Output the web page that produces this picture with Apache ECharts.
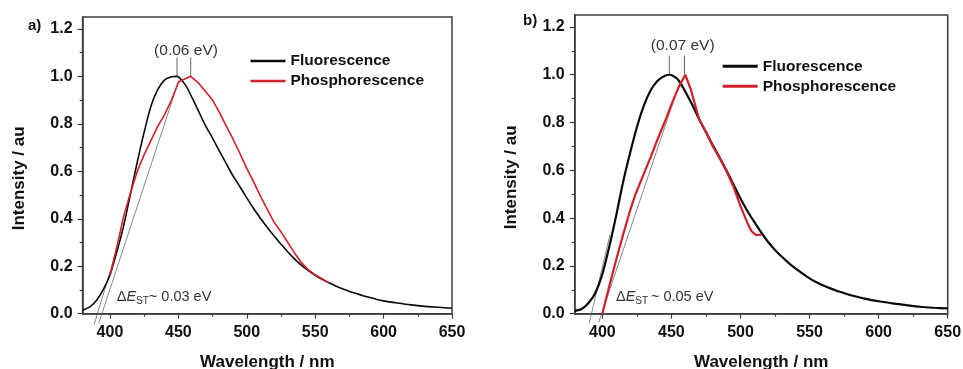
<!DOCTYPE html>
<html>
<head>
<meta charset="utf-8">
<script src="https://cdn.jsdelivr.net/npm/echarts@6/dist/echarts.min.js"></script>
<style>
  html, body { margin: 0; padding: 0; background: #fff; }
  #chart { width: 963px; height: 369px; }
</style>
</head>
<body>
<div id="chart"></div>
<script>
// ---- Emission spectra (wavelength in nm, normalised intensity) ----
const wavelengths = [380,385,390,395,400,405,410,415,420,425,430,435,440,445,449,455,460,465,470,475,480,485,490,495,500,505,510,515,520,525,530,535,540,545,550,555,560,565,570,575,580,585,590,595,600,610,620,630,640,650];

// (a) fluorescence and phosphorescence
const fluorA = [0.015,0.028,0.055,0.100,0.163,0.260,0.370,0.505,0.640,0.765,0.875,0.945,0.985,0.998,1.000,0.965,0.910,0.850,0.790,0.740,0.685,0.632,0.580,0.535,0.488,0.443,0.402,0.363,0.327,0.293,0.260,0.230,0.204,0.182,0.162,0.145,0.130,0.117,0.105,0.094,0.085,0.076,0.068,0.060,0.054,0.045,0.037,0.031,0.027,0.023];
const phosWlA = [400,405,410,415,420,425,430,435,440,445,450,453,459,465,470,475,480,485,490,495,500,505,510,515,520,525,530,535,540,545,550,555,560];
const phosA = [0.160,0.280,0.410,0.510,0.600,0.670,0.730,0.790,0.840,0.900,0.975,0.985,1.000,0.970,0.935,0.900,0.848,0.790,0.735,0.675,0.612,0.555,0.495,0.440,0.385,0.345,0.300,0.255,0.215,0.185,0.163,0.147,0.130];

// (b) fluorescence and phosphorescence
const fluorB = [0.012,0.020,0.045,0.088,0.165,0.280,0.410,0.550,0.670,0.780,0.870,0.935,0.975,0.995,1.000,0.978,0.930,0.875,0.815,0.760,0.705,0.652,0.598,0.540,0.482,0.430,0.384,0.340,0.300,0.267,0.238,0.212,0.189,0.168,0.148,0.132,0.118,0.106,0.095,0.086,0.077,0.070,0.063,0.057,0.052,0.043,0.036,0.029,0.025,0.022];
const phosWlB = [400,405,410,415,420,424,430,435,440,445,450,455,460,464,470,475,480,485,490,495,500,505,508,511,515];
const phosB = [0.000,0.115,0.225,0.330,0.430,0.500,0.585,0.655,0.730,0.800,0.875,0.945,1.000,0.940,0.815,0.760,0.700,0.650,0.595,0.530,0.450,0.380,0.345,0.330,0.330];

// Onset tangents [wavelength, intensity] end points
const tangentFluorA = [[388.5,-0.045],[406,0.29]];
const tangentPhosA  = [[391.8,-0.040],[450.5,0.985]];
const tangentFluorB = [[390.5,-0.040],[405.5,0.330]];
const tangentPhosB  = [[397.4,-0.035],[456,0.965]];

// Emission maxima markers
const peaksA = [449, 459];
const peaksB = [448.5, 459.5];
const peakMarkTop = 1.08;

// Axis ticks
const xMajorTicks = [400,450,500,550,600,650];
const xMinorTicks = [425,475,525,575,625];
const yMajorTicks = [0,0.2,0.4,0.6,0.8,1.0,1.2];
const yMinorTicks = [0.1,0.3,0.5,0.7,0.9,1.1];

const seriesNames = ['Fluorescence', 'Phosphorescence'];
const annotations = {
  a: { label: 'a)', shift: '(0.06 eV)', gap: '~ 0.03 eV', subSpace: '' },
  b: { label: 'b)', shift: '(0.07 eV)', gap: '~ 0.05 eV', subSpace: ' ' }
};

const FONT = '"Liberation Sans", Arial, Helvetica, sans-serif';
const BLACK = '#0a0a0a';
const RED = '#d0202a';
const FRAME = '#3c3c3c';
const THIN = '#555555';

const zip = (xs, ys) => xs.map((x, i) => [x, ys[i]]);

const grids = [
  { left: 82.6, top: 17, width: 369.4, height: 296.7 },
  { left: 574.7, top: 15, width: 373, height: 298.7 }
];

function xAxes(gridIndex) {
  return [
    {
      type: 'value', gridIndex, min: 380, max: 650, position: 'bottom',
      axisLine: { show: true, onZero: false, lineStyle: { color: FRAME, width: 1.5 } },
      axisTick: { show: true, inside: false, length: 5, customValues: xMajorTicks, lineStyle: { color: FRAME, width: 1.2 } },
      axisLabel: { customValues: xMajorTicks, margin: 11, fontSize: 16, fontWeight: 'bold', color: '#111', fontFamily: FONT },
      splitLine: { show: false },
      name: 'Wavelength / nm', nameLocation: 'middle', nameGap: 40,
      nameTextStyle: { fontSize: 17, fontWeight: 'bold', color: '#111', fontFamily: FONT }
    },
    {
      type: 'value', gridIndex, min: 380, max: 650, position: 'bottom',
      axisLine: { show: false, onZero: false },
      axisTick: { show: true, inside: false, length: 3, customValues: xMinorTicks, lineStyle: { color: FRAME, width: 1.2 } },
      axisLabel: { show: false },
      splitLine: { show: false }
    }
  ];
}

function yAxes(gridIndex) {
  return [
    {
      type: 'value', gridIndex, min: 0, max: 1.25, position: 'left',
      axisLine: { show: true, onZero: false, lineStyle: { color: FRAME, width: 1.5 } },
      axisTick: { show: true, inside: false, length: 5, customValues: yMajorTicks, lineStyle: { color: FRAME, width: 1.2 } },
      axisLabel: { customValues: yMajorTicks, margin: 10, fontSize: 16, fontWeight: 'bold', color: '#111', fontFamily: FONT,
                   formatter: v => Number(v).toFixed(1) },
      splitLine: { show: false },
      name: 'Intensity / au', nameLocation: 'middle', nameGap: 55,
      nameTextStyle: { fontSize: 17, fontWeight: 'bold', color: '#111', fontFamily: FONT, padding: [0, 26, 0, 0] }
    },
    {
      type: 'value', gridIndex, min: 0, max: 1.25, position: 'left',
      axisLine: { show: false, onZero: false },
      axisTick: { show: true, inside: false, length: 3, customValues: yMinorTicks, lineStyle: { color: FRAME, width: 1.2 } },
      axisLabel: { show: false },
      splitLine: { show: false }
    }
  ];
}

function panelSeries(gridIndex, fluor, phosWl, phos, tanF, tanP, peaks, width) {
  const ax = { xAxisIndex: gridIndex * 2, yAxisIndex: gridIndex * 2 };
  const thin = (data, w) => Object.assign({
    type: 'line', data, symbol: 'none', clip: false, silent: true, z: 1,
    lineStyle: { color: THIN, width: w }, color: THIN
  }, ax);
  return [
    thin(tanF, 0.7),
    thin(tanP, 0.7),
    thin([[peaks[0], 1.0], [peaks[0], peakMarkTop]], 0.9),
    thin([[peaks[1], 1.0], [peaks[1], peakMarkTop]], 0.9),
    Object.assign({
      type: 'line', name: seriesNames[0], data: zip(wavelengths, fluor), symbol: 'none', smooth: 0.25, z: 3,
      color: BLACK, lineStyle: { color: BLACK, width: width }
    }, ax),
    Object.assign({
      type: 'line', name: seriesNames[1], data: zip(phosWl, phos), symbol: 'none', z: 4,
      color: RED, lineStyle: { color: RED, width: width }
    }, ax)
  ];
}

function legend(left, top, iconH) {
  return {
    data: seriesNames, orient: 'vertical', left, top, padding: 0,
    icon: 'rect', itemWidth: 35, itemHeight: iconH, itemGap: 4,
    selectedMode: false,
    textStyle: { fontSize: 15.5, fontWeight: 'bold', color: '#111', fontFamily: FONT, lineHeight: 16 }
  };
}

function gapText(x, y, ann) {
  return {
    type: 'text', x, y, silent: true,
    style: {
      text: '{d|Δ}{e|E}{s|ST' + ann.subSpace + '}{n|' + ann.gap + '}',
      textVerticalAlign: 'middle',
      rich: {
        d: { fontSize: 14.5, fontFamily: FONT, fill: '#333', lineHeight: 18, verticalAlign: 'middle' },
        e: { fontSize: 14.5, fontFamily: FONT, fontStyle: 'italic', fill: '#333', lineHeight: 18, verticalAlign: 'middle' },
        s: { fontSize: 10, fontFamily: FONT, fill: '#333', lineHeight: 11, verticalAlign: 'bottom' },
        n: { fontSize: 14.5, fontFamily: FONT, fill: '#333', lineHeight: 18, verticalAlign: 'middle' }
      }
    }
  };
}

function plainText(x, y, text, size, weight, align) {
  return {
    type: 'text', x, y, silent: true,
    style: { text, fontSize: size, fontWeight: weight, fontFamily: FONT, fill: weight === 'bold' ? '#111' : '#333',
             textAlign: align, textVerticalAlign: 'middle' }
  };
}

const chart = echarts.init(document.getElementById('chart'), null, { renderer: 'canvas' });

chart.setOption({
  animation: false,
  backgroundColor: '#fff',
  grid: grids.map(g => Object.assign({
    show: true, borderColor: FRAME, borderWidth: 1.5, backgroundColor: 'transparent',
    containLabel: false, outerBoundsMode: 'none'
  }, g)),
  xAxis: [...xAxes(0), ...xAxes(1)],
  yAxis: [...yAxes(0), ...yAxes(1)],
  legend: [legend(250.5, 53, 2.5), legend(722.7, 58.3, 3)],
  series: [
    ...panelSeries(0, fluorA, phosWlA, phosA, tangentFluorA, tangentPhosA, peaksA, 1.6),
    ...panelSeries(1, fluorB, phosWlB, phosB, tangentFluorB, tangentPhosB, peaksB, 2.2)
  ],
  graphic: [
    plainText(28, 26, annotations.a.label, 15, 'bold', 'left'),
    plainText(523, 21, annotations.b.label, 15, 'bold', 'left'),
    plainText(186, 51, annotations.a.shift, 15.5, 'normal', 'center'),
    plainText(682.7, 46, annotations.b.shift, 15.5, 'normal', 'center'),
    gapText(116.7, 297, annotations.a),
    gapText(616, 297, annotations.b)
  ]
});
</script>
</body>
</html>
